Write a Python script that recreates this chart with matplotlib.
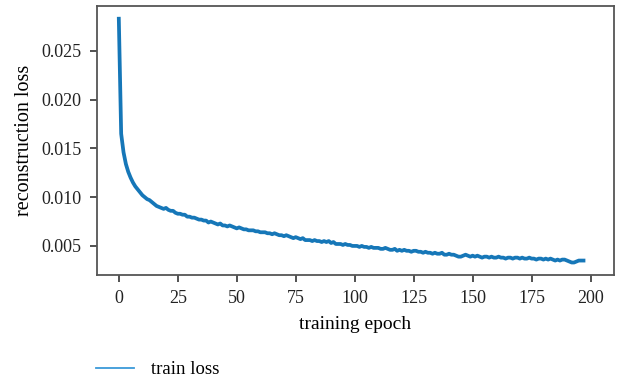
import matplotlib
matplotlib.use("Agg")
import matplotlib.pyplot as plt

# loss per epoch
train_loss = [
    0.0283, 0.0165, 0.0146, 0.0134, 0.0126, 0.0120, 0.0115, 0.0111, 0.0108, 0.0105,
    0.0102, 0.0100, 0.0098, 0.0097, 0.0095, 0.0093, 0.0091, 0.0090, 0.0089, 0.0088,
    0.0089, 0.0087, 0.0086, 0.0086, 0.0084, 0.0083, 0.0083, 0.0082, 0.0082, 0.0080,
    0.0080, 0.0079, 0.0079, 0.0078, 0.0077, 0.0077, 0.0076, 0.0076, 0.0074, 0.0075,
    0.0074, 0.0073, 0.0072, 0.0073, 0.0071, 0.0071, 0.0070, 0.0071, 0.0070, 0.0069,
    0.0068, 0.0069, 0.0068, 0.0067, 0.0067, 0.0066, 0.0066, 0.0066, 0.0065, 0.0065,
    0.0064, 0.0064, 0.0064, 0.0063, 0.0063, 0.0062, 0.0063, 0.0062, 0.0061, 0.0061,
    0.0060, 0.0061, 0.0060, 0.0059, 0.0058, 0.0059, 0.0058, 0.0057, 0.0058, 0.0056,
    0.0056, 0.0056, 0.0055, 0.0056, 0.0055, 0.0055, 0.0054, 0.0055, 0.0054, 0.0055,
    0.0053, 0.0054, 0.0052, 0.0052, 0.0052, 0.0051, 0.0052, 0.0051, 0.0051, 0.0050,
    0.0050, 0.0050, 0.0049, 0.0050, 0.0049, 0.0049, 0.0048, 0.0049, 0.0048, 0.0048,
    0.0048, 0.0047, 0.0047, 0.0048, 0.0047, 0.0046, 0.0046, 0.0047, 0.0045, 0.0046,
    0.0045, 0.0046, 0.0045, 0.0045, 0.0044, 0.0045, 0.0045, 0.0044, 0.0044, 0.0043,
    0.0044, 0.0043, 0.0043, 0.0042, 0.0043, 0.0042, 0.0042, 0.0043, 0.0041, 0.0041,
    0.0042, 0.0041, 0.0041, 0.0040, 0.0039, 0.0039, 0.0040, 0.0041, 0.0040, 0.0039,
    0.0040, 0.0039, 0.0040, 0.0039, 0.0038, 0.0039, 0.0039, 0.0038, 0.0039, 0.0038,
    0.0038, 0.0039, 0.0038, 0.0038, 0.0037, 0.0038, 0.0038, 0.0037, 0.0038, 0.0038,
    0.0037, 0.0038, 0.0037, 0.0037, 0.0038, 0.0037, 0.0037, 0.0036, 0.0037, 0.0037,
    0.0036, 0.0037, 0.0036, 0.0037, 0.0036, 0.0035, 0.0036, 0.0035, 0.0036, 0.0036,
    0.0035, 0.0034, 0.0033, 0.0033, 0.0034, 0.0035, 0.0035, 0.0035,
]
epochs = list(range(len(train_loss)))
x_ticks = [0, 25, 50, 75, 100, 125, 150, 175, 200]
y_ticks = [0.005, 0.010, 0.015, 0.020, 0.025]

plt.rcParams['font.family'] = ['Liberation Serif', 'DejaVu Serif']
plt.rcParams['font.size'] = 13

fig = plt.figure(figsize=(6.21, 3.78), dpi=100)
ax = fig.add_axes([0.156, 0.272, 0.833, 0.712])

ax.plot(epochs, train_loss, color='#1677b8', lw=2.7, label='train loss')

ax.set_xlim(-9.3, 210)
ax.set_ylim(0.0020, 0.0296)
ax.set_xticks(x_ticks)
ax.set_yticks(y_ticks)
ax.set_yticklabels(['%.3f' % v for v in y_ticks])
ax.set_xlabel('training epoch', fontsize=14, labelpad=6)
ax.set_ylabel('reconstruction loss', fontsize=14.5, labelpad=5)

for s in ax.spines.values():
    s.set_color('#555555')
    s.set_linewidth(1.3)
ax.tick_params(colors='#333333', direction='out', length=5, width=1.2, pad=6)
ax.tick_params(labelcolor='#222222')

fig.legend([plt.Line2D([], [], color='#3a9ad9', lw=1.3)], ['train loss'],
           loc='lower left', bbox_to_anchor=(0.128, -0.045), frameon=False,
           handlelength=2.0, handletextpad=0.9, fontsize=13.5)

fig.savefig('out.png', dpi=100)
